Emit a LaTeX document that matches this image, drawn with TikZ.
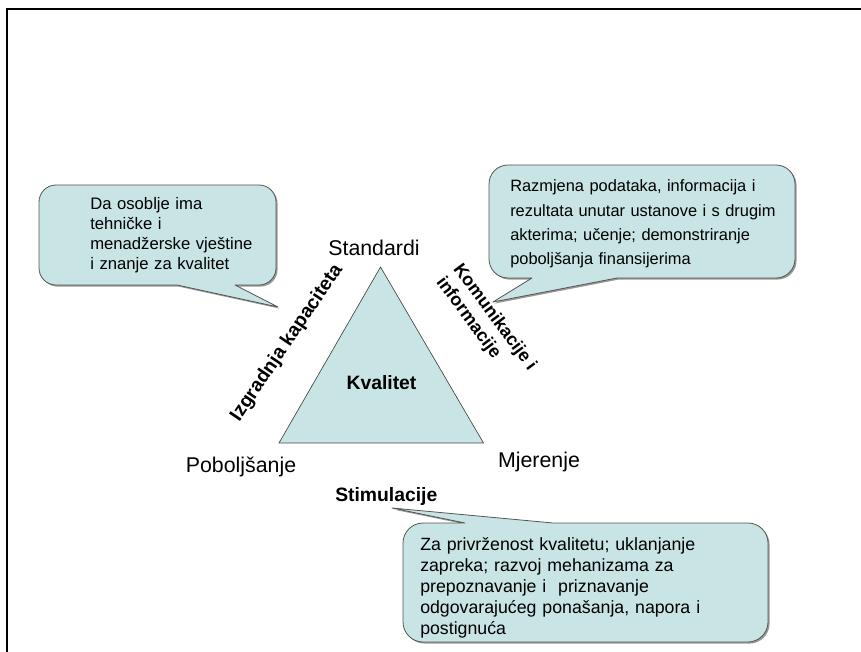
\documentclass[tikz,border=0pt]{standalone}
\usepackage{fontspec}
\setmainfont{Liberation Sans}
\definecolor{panelfill}{RGB}{200,228,228}
\definecolor{panelline}{RGB}{85,85,85}
\tikzset{
  panel/.style={fill=panelfill, draw=panelline, line width=0.6pt, line join=round},
  panelshadow/.style={fill=black!40, draw=none, shift={(1.6,1.6)}},
  notetext/.style={anchor=base west, align=left, inner sep=0pt, text width=#1},
  vertexlabel/.style={font=\fontsize{16}{19}\selectfont, inner sep=0pt, anchor=base},
  sidelabel/.style={font=\bfseries\fontsize{14.5}{17}\selectfont, inner sep=0pt},
}
\begin{document}
\begin{tikzpicture}[x=0.75pt,y=-0.75pt]
\useasboundingbox (0,0) rectangle (861,652);

% page frame (top and left edges)
\draw[line width=2pt] (7,652) -- (7,9) -- (861,9);

% central triangle
\path[fill=panelfill, draw=gray!55!black, line width=0.5pt]
  (380.5,267) coordinate (apex) -- (279,443) coordinate (bl)
  -- (483.5,443) coordinate (br) -- cycle;
\node[sidelabel, anchor=base] (kval) at (381.5,390) {Kvalitet};

% vertex labels
\node[vertexlabel] (std) at (374,256) {Standardi};
\node[vertexlabel] (pob) at (241,473) {Poboljšanje};
\node[vertexlabel] (mjer) at (539,467) {Mjerenje};

% side labels
\node[sidelabel, rotate=56] (izg) at (287,343) {Izgradnja kapaciteta};
\node[sidelabel, font=\bfseries\fontsize{13.5}{16}\selectfont, rotate=-53.4, align=left]
  (kom) at (486,324) {Komunikacije i\\informacije};
\node[sidelabel, anchor=base west] (stim) at (335,501) {Stimulacije};

% callout: capacity building
\def\calloutA{(56,185) -- (259,185) .. controls (268.4,185) and (276,192.6) .. (276,202)
  -- (276,268) .. controls (276,277.4) and (268.4,285) .. (259,285)
  -- (235,285) -- (278,307) -- (177,285)
  -- (56,285) .. controls (46.6,285) and (39,277.4) .. (39,268)
  -- (39,202) .. controls (39,192.6) and (46.6,185) .. (56,185) -- cycle}
\fill[panelshadow] \calloutA;
\draw[panel] \calloutA;
\node[notetext=200pt, font=\fontsize{12.5}{15}\selectfont] (noteA) at (90,209.5)
  {Da osoblje ima\\tehničke i\\menadžerske vještine\\i znanje za kvalitet};

% callout: communication
\def\calloutB{(508,165) -- (776,165) .. controls (786.5,165) and (795,173.5) .. (795,184)
  -- (795,259) .. controls (795,269.5) and (786.5,278) .. (776,278)
  -- (617,278) -- (493,302) -- (532,278)
  -- (508,278) .. controls (497.5,278) and (489,269.5) .. (489,259)
  -- (489,184) .. controls (489,173.5) and (497.5,165) .. (508,165) -- cycle}
\fill[panelshadow] \calloutB;
\draw[panel] \calloutB;
\node[notetext=260pt, font=\fontsize{12.3}{18.2}\selectfont] (noteB) at (510,192)
  {Razmjena podataka, informacija i\\rezultata unutar ustanove i s drugim\\akterima; učenje; demonstriranje\\poboljšanja finansijerima};

% callout: incentives
\def\calloutC{(423,523) -- (465,523) -- (392,508) -- (553,523)
  -- (748,523) .. controls (759,523) and (768,532) .. (768,543)
  -- (768,622) .. controls (768,633) and (759,642) .. (748,642)
  -- (423,642) .. controls (412,642) and (403,633) .. (403,622)
  -- (403,543) .. controls (403,532) and (412,523) .. (423,523) -- cycle}
\fill[panelshadow] \calloutC;
\draw[panel] \calloutC;
\node[notetext=280pt, font=\fontsize{13.3}{15.7}\selectfont] (noteC) at (420,550.5)
  {Za privrženost kvalitetu; uklanjanje\\zapreka; razvoj mehanizama za\\prepoznavanje i \ priznavanje\\odgovarajućeg ponašanja, napora i\\postignuća};
\end{tikzpicture}
\end{document}
